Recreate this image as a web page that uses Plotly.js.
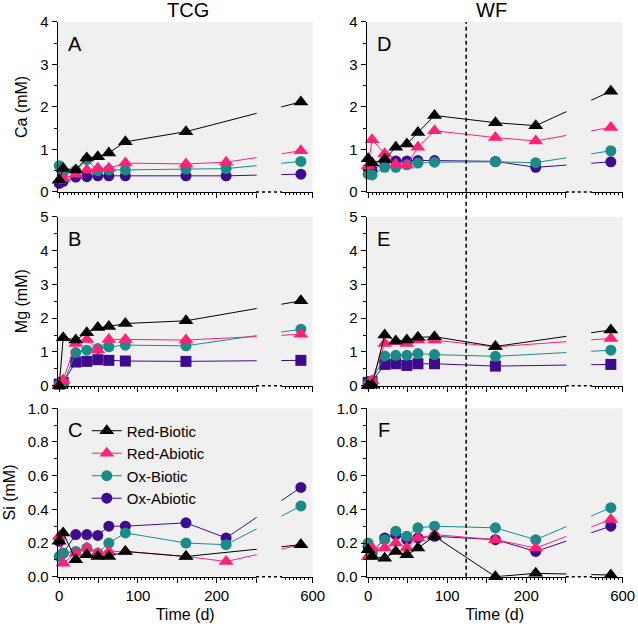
<!DOCTYPE html>
<html>
<head>
<meta charset="utf-8">
<script src="https://cdn.plot.ly/plotly-3.0.1.min.js"></script>
<style>
  body { margin: 0; background: #fff; }
  #chart { width: 638px; height: 628px; }
</style>
</head>
<body>
<div id="chart"></div>
<script>
// sampling days; the last one sits after the axis break
const days = [0, 5, 21, 35, 49, 63, 84, 161, 212, 585];

// ---- Ca ----
const caTcgRedBiotic  = [0.28, 0.55, 0.52, 0.80, 0.83, 0.92, 1.18, 1.42, null, 2.12];
const caTcgRedAbiotic = [0.27, 0.32, 0.42, 0.52, 0.56, 0.56, 0.68, 0.66, 0.70, 0.97];
const caTcgOxBiotic   = [0.62, 0.45, 0.50, 0.76, 0.50, 0.52, 0.52, 0.54, 0.55, 0.72];
const caTcgOxAbiotic  = [0.20, 0.25, 0.35, 0.36, 0.38, 0.38, 0.38, 0.38, 0.38, 0.42];

const caWfRedBiotic  = [0.78, 0.68, 0.77, 1.05, 1.13, 1.40, 1.80, 1.63, 1.56, 2.37];
const caWfRedAbiotic = [0.62, 1.23, 0.90, 0.65, 0.63, 1.05, 1.44, 1.28, 1.20, 1.52];
const caWfOxBiotic   = [0.42, 0.40, 0.58, 0.58, 0.64, 0.68, 0.70, 0.71, 0.69, 0.97];
const caWfOxAbiotic  = [0.55, 0.50, 0.72, 0.73, 0.73, 0.74, 0.74, 0.72, 0.58, 0.71];

// ---- Mg ----
const mgTcgRedBiotic  = [0.00, 1.42, 1.35, 1.57, 1.72, 1.75, 1.84, 1.92, null, 2.51];
const mgTcgRedAbiotic = [0.05, 0.17, 1.25, 1.37, 1.06, 1.37, 1.37, 1.35, null, 1.52];
const mgTcgOxBiotic   = [0.03, 0.05, 0.98, 1.05, 1.10, 1.15, 1.20, 1.18, null, 1.67];
const mgTcgOxAbiotic  = [0.05, 0.10, 0.70, 0.72, 0.77, 0.75, 0.73, 0.72, null, 0.75];

const mgWfRedBiotic  = [0.00, 0.02, 1.50, 1.32, 1.35, 1.43, 1.45, 1.16, null, 1.65];
const mgWfRedAbiotic = [0.05, 0.15, 1.25, 1.30, 1.25, 1.35, 1.35, 1.15, null, 1.40];
const mgWfOxBiotic   = [0.05, 0.15, 0.88, 0.90, 0.90, 0.95, 0.92, 0.87, null, 1.05];
const mgWfOxAbiotic  = [0.10, 0.12, 0.63, 0.65, 0.60, 0.65, 0.65, 0.58, null, 0.63];

// ---- Si ----
const siTcgRedBiotic  = [0.21, 0.26, 0.10, 0.13, 0.12, 0.12, 0.15, 0.12, null, 0.19];
const siTcgRedAbiotic = [0.24, 0.08, 0.14, 0.17, 0.14, 0.15, 0.15, 0.12, 0.09, 0.19];
const siTcgOxBiotic   = [0.12, 0.14, 0.15, 0.17, 0.14, 0.20, 0.26, 0.20, 0.19, 0.42];
const siTcgOxAbiotic  = [0.21, 0.14, 0.25, 0.25, 0.245, 0.30, 0.30, 0.32, 0.23, 0.53];

const siWfRedBiotic  = [0.16, 0.12, 0.11, 0.15, 0.13, 0.17, 0.24, 0.00, 0.02, 0.01];
const siWfRedAbiotic = [0.12, 0.17, 0.17, 0.20, 0.17, 0.23, 0.25, 0.22, 0.17, 0.34];
const siWfOxBiotic   = [0.20, 0.15, 0.22, 0.27, 0.24, 0.29, 0.30, 0.29, 0.22, 0.41];
const siWfOxAbiotic  = [0.18, 0.14, 0.23, 0.25, 0.22, 0.23, 0.24, 0.22, 0.15, 0.30];

const names  = ['Red-Biotic', 'Red-Abiotic', 'Ox-Biotic', 'Ox-Abiotic'];
const colors = ['#000000', '#ff2277', '#1b8b88', '#3f0b8e'];
const xTickDays   = [0, 50, 100, 150, 200, 250, 600];
const xTickLabels = ['0', '', '100', '', '200', '', '600'];
const wfMarkerDay = 124;   // dashed line in the WF column

// broken time axis: 0-250 d, gap, then 561-600 d
const breakDay = 250, resumeDay = 561, resumePos = 283;
function xpos(d) { return d <= breakDay ? d : resumePos + (d - resumeDay); }
const xStart = -2, xEnd = xpos(600);

const font = 'Liberation Sans, Arial, sans-serif';
const bg = '#f0f0f0';

const cols = [[0.0904, 0.4901], [0.5745, 0.976]];
const rows = [[0.6943, 0.965], [0.3858, 0.655], [0.0817, 0.3498]];
const rowRange = [[0, 4], [0, 5], [0, 1]];
const rowDtick = [1, 1, 0.2];
const rowMinor = [0.5, 0.5, 0.1];
const rowTitle = ['Ca (mM)', 'Mg (mM)', 'Si (mM)'];

const panels = [
  {row: 0, col: 0, letter: 'A', data: [caTcgRedBiotic, caTcgRedAbiotic, caTcgOxBiotic, caTcgOxAbiotic], oxAb: 'circle'},
  {row: 0, col: 1, letter: 'D', data: [caWfRedBiotic, caWfRedAbiotic, caWfOxBiotic, caWfOxAbiotic], oxAb: 'circle'},
  {row: 1, col: 0, letter: 'B', data: [mgTcgRedBiotic, mgTcgRedAbiotic, mgTcgOxBiotic, mgTcgOxAbiotic], oxAb: 'square'},
  {row: 1, col: 1, letter: 'E', data: [mgWfRedBiotic, mgWfRedAbiotic, mgWfOxBiotic, mgWfOxAbiotic], oxAb: 'square'},
  {row: 2, col: 0, letter: 'C', data: [siTcgRedBiotic, siTcgRedAbiotic, siTcgOxBiotic, siTcgOxAbiotic], oxAb: 'circle', legend: true},
  {row: 2, col: 1, letter: 'F', data: [siWfRedBiotic, siWfRedAbiotic, siWfOxBiotic, siWfOxAbiotic], oxAb: 'circle'}
];

// minor ticks every 5 d, none inside the gap
const minorX = [];
for (let d = 5; d < breakDay; d += 5) if (d % 50) minorX.push(d);
for (let d = resumeDay + 4; d < 600; d += 5) minorX.push(xpos(d));

// axis position -> paper x, for the gap cover and dotted part of the axis
function paperX(p, col) {
  const [a, b] = cols[col];
  return a + (p - xStart) / (xEnd - xStart) * (b - a);
}

const traces = [];
const shapes = [];
const annotations = [];
const layout = {
  width: 638, height: 628,
  margin: {l: 0, r: 0, t: 0, b: 0},
  paper_bgcolor: '#fff',
  plot_bgcolor: bg,
  font: {family: font, size: 15, color: '#000'},
  showlegend: true,
  legend: {x: 0.136, y: 0.340, xanchor: 'left', yanchor: 'top', traceorder: 'reversed',
           bgcolor: 'rgba(0,0,0,0)', font: {size: 15}}
};

panels.forEach((p, k) => {
  const n = k + 1;
  const xid = n === 1 ? 'x' : 'x' + n;
  const yid = n === 1 ? 'y' : 'y' + n;
  const [y0, y1] = rows[p.row];

  // draw Ox-Abiotic first so Red-Biotic sits on top
  for (let i = 3; i >= 0; i--) {
    const symbol = i < 2 ? 'triangle-up' : (i === 3 ? p.oxAb : 'circle');
    traces.push({
      x: days.map(xpos), y: p.data[i],
      xaxis: xid, yaxis: yid,
      type: 'scatter', mode: 'lines+markers', connectgaps: true, cliponaxis: false,
      name: names[i], showlegend: !!p.legend,
      line: {color: colors[i], width: 1},
      marker: {symbol: symbol, size: i < 2 ? 13 : 11, color: colors[i]}
    });
  }

  layout['xaxis' + (n === 1 ? '' : n)] = {
    domain: cols[p.col], anchor: yid, range: [xStart, xEnd],
    showline: true, linecolor: '#000', linewidth: 1,
    showgrid: false, zeroline: false,
    tickmode: 'array', tickvals: xTickDays.map(xpos), ticktext: xTickLabels,
    ticks: 'outside', ticklen: 5, tickcolor: '#000', tickwidth: 1,
    showticklabels: p.row === 2,
    tickfont: {size: 15},
    minor: {tickmode: 'array', tickvals: minorX, ticks: 'outside', ticklen: 2, tickcolor: '#000'},
    title: p.row === 2 ? {text: 'Time (d)', font: {size: 16}, standoff: 6} : {text: ''}
  };
  layout['yaxis' + (n === 1 ? '' : n)] = {
    domain: rows[p.row], anchor: xid, range: rowRange[p.row],
    dtick: rowDtick[p.row], tickformat: p.row === 2 ? '.1f' : '',
    showline: true, linecolor: '#000', linewidth: 1,
    showgrid: false, zeroline: false,
    ticks: 'outside', ticklen: 5, tickcolor: '#000',
    minor: {dtick: rowMinor[p.row], ticks: 'outside', ticklen: 3, tickcolor: '#000'},
    tickfont: {size: 15},
    title: p.col === 0 ? {text: rowTitle[p.row], font: {size: 16}, standoff: 8} : {text: ''}
  };

  // hide traces and the solid axis line inside the break, then dot across it
  const gx0 = paperX(breakDay + 0.8, p.col), gx1 = paperX(resumePos - 0.8, p.col);
  shapes.push({type: 'rect', xref: 'paper', yref: 'paper', x0: gx0, x1: gx1,
               y0: y0 - 0.0025, y1: y1, fillcolor: bg, line: {width: 0}, layer: 'above'});
  shapes.push({type: 'rect', xref: 'paper', yref: 'paper', x0: gx0, x1: gx1,
               y0: y0 - 0.004, y1: y0 - 0.0008, fillcolor: '#fff', line: {width: 0}, layer: 'above'});
  shapes.push({type: 'line', xref: 'paper', yref: 'paper',
               x0: paperX(breakDay, p.col), x1: paperX(resumePos, p.col), y0: y0, y1: y0,
               line: {color: '#000', width: 1.5, dash: 'dot'}, layer: 'above'});

  annotations.push({xref: 'paper', yref: 'paper', x: cols[p.col][0] + 0.027, y: y1 - 0.035,
                    text: p.letter, showarrow: false, font: {size: 20}, xanchor: 'center', yanchor: 'middle'});
});

// WF dashed line through all three rows
shapes.push({type: 'line', xref: 'paper', yref: 'paper',
             x0: paperX(wfMarkerDay, 1), x1: paperX(wfMarkerDay, 1),
             y0: rows[2][0], y1: rows[0][1], line: {color: '#000', width: 1.5, dash: '4px,3px'}, layer: 'above'});

annotations.push({xref: 'paper', yref: 'paper', x: 0.295, y: 0.984, text: 'TCG', showarrow: false,
                  font: {size: 20}, xanchor: 'center', yanchor: 'middle'});
annotations.push({xref: 'paper', yref: 'paper', x: 0.77, y: 0.984, text: 'WF', showarrow: false,
                  font: {size: 20}, xanchor: 'center', yanchor: 'middle'});

layout.shapes = shapes;
layout.annotations = annotations;

Plotly.newPlot('chart', traces, layout, {displayModeBar: false, staticPlot: true});
</script>
</body>
</html>
